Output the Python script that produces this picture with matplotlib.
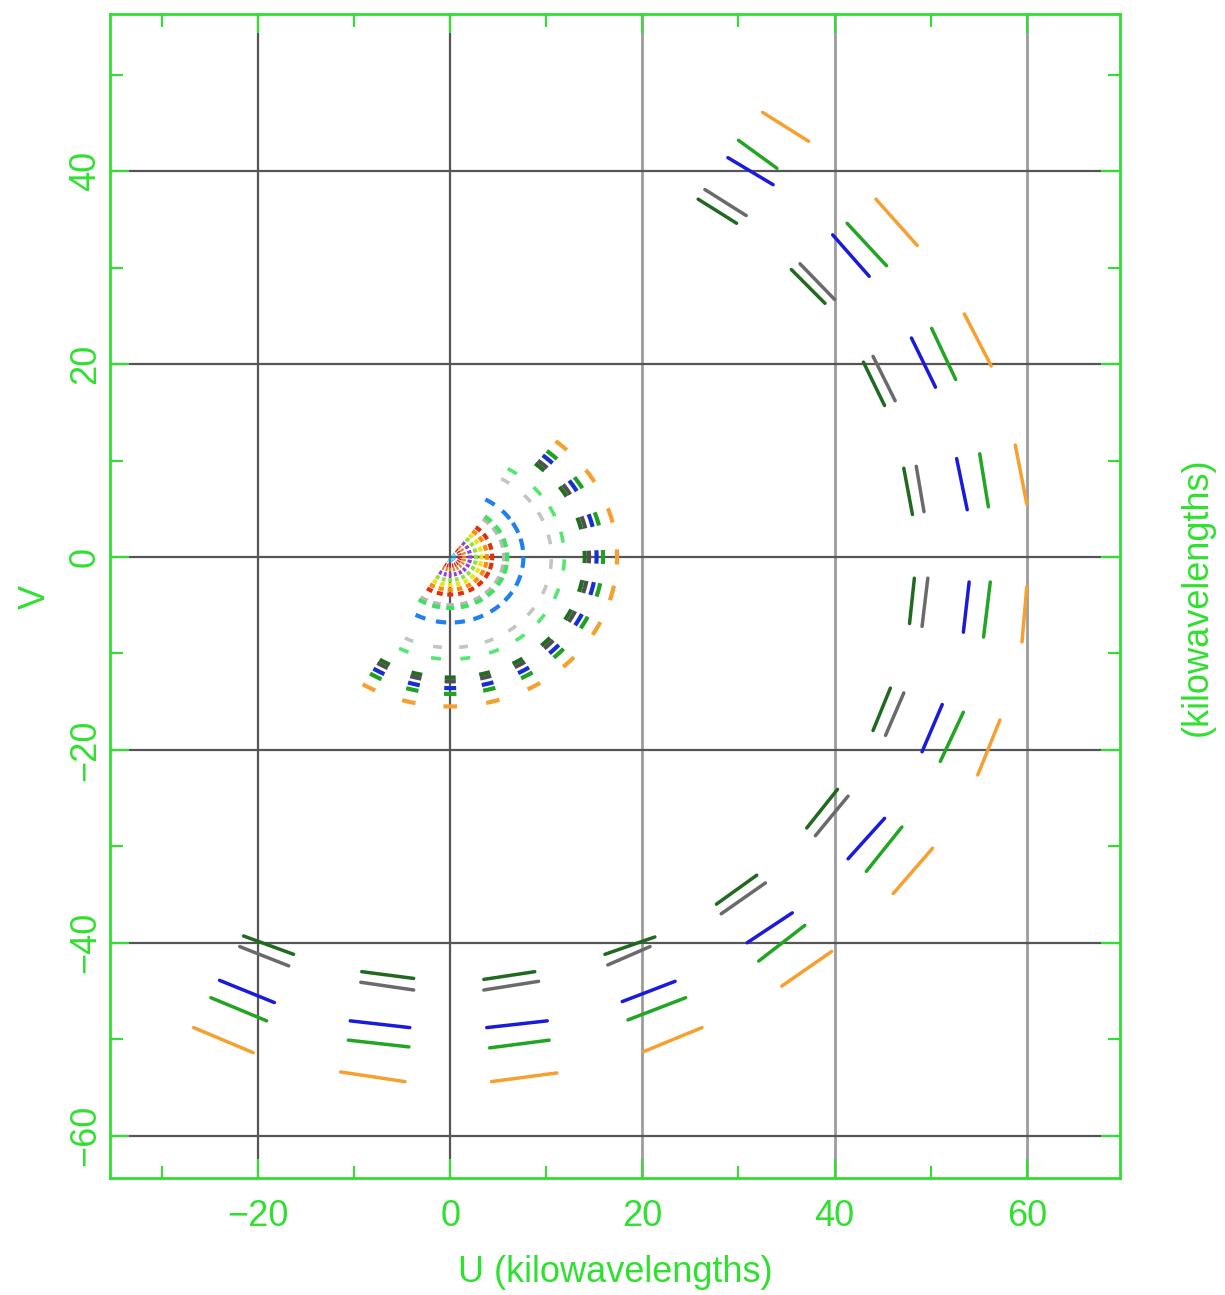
import numpy as np
import matplotlib
matplotlib.use("Agg")
import matplotlib.pyplot as plt
from matplotlib.ticker import MultipleLocator

# ---------------- data ----------------
# Outer UV-track segments: (u_start, v_start, u_end, v_end) in kilowavelengths,
# 12 hour-angle samples, from the top of the arc to the lower left.
orange_segs = [(32.5, 46.1, 37.3, 43.1), (44.3, 37.1, 48.6, 32.3), (53.5, 25.2, 56.3, 19.8),
               (58.8, 11.6, 60.0, 5.5), (60.0, -3.1, 59.5, -8.8), (57.2, -16.9, 54.9, -22.6),
               (50.2, -30.2, 46.1, -34.9), (39.7, -40.9, 34.5, -44.5), (26.2, -48.8, 20.1, -51.3),
               (11.1, -53.5, 4.3, -54.4), (-4.7, -54.4, -11.4, -53.4), (-20.5, -51.4, -26.7, -48.8)]
green_segs = [(30.0, 43.2, 34.0, 40.3), (41.3, 34.6, 45.4, 30.2), (50.1, 23.7, 52.6, 18.4),
              (55.1, 10.7, 56.0, 5.2), (56.2, -2.6, 55.5, -8.3), (53.4, -16.1, 51.0, -21.2),
              (47.0, -28.0, 43.3, -32.6), (36.9, -38.2, 32.1, -41.9), (24.5, -45.7, 18.5, -48.0),
              (10.3, -50.1, 4.1, -50.9), (-4.3, -50.8, -10.6, -50.1), (-19.1, -48.1, -24.9, -45.7)]
blue_segs = [(28.9, 41.4, 33.6, 38.6), (39.8, 33.4, 43.6, 29.1), (48.0, 22.7, 50.5, 17.6),
             (52.7, 10.2, 53.8, 4.9), (54.0, -2.6, 53.4, -7.8), (51.2, -15.3, 49.1, -20.2),
             (45.2, -27.1, 41.4, -31.3), (35.6, -36.9, 30.9, -40.0), (23.4, -44.0, 17.9, -46.1),
             (10.1, -48.1, 3.8, -48.8), (-4.2, -48.8, -10.4, -48.1), (-18.3, -46.2, -24.0, -43.9)]
gray_segs = [(26.5, 38.1, 30.8, 35.4), (36.4, 30.4, 40.0, 26.7), (44.0, 20.8, 46.3, 16.2),
             (48.5, 9.4, 49.3, 4.7), (49.7, -2.2, 49.1, -7.2), (47.2, -14.1, 45.3, -18.5),
             (41.4, -24.8, 38.0, -28.9), (32.8, -33.8, 28.2, -37.0), (20.8, -40.4, 16.4, -42.3),
             (9.2, -44.0, 3.5, -44.9), (-3.8, -44.9, -9.3, -44.1), (-16.8, -42.4, -21.9, -40.4)]
dkgreen_segs = [(25.8, 37.1, 29.8, 34.6), (35.5, 29.8, 39.0, 26.3), (43.0, 20.2, 45.2, 15.7),
                (47.2, 9.2, 48.1, 4.4), (48.3, -2.2, 47.8, -6.9), (45.8, -13.6, 44.0, -18.0),
                (40.3, -24.1, 37.1, -28.1), (31.9, -33.0, 27.7, -36.0), (21.3, -39.4, 16.1, -41.2),
                (8.8, -43.0, 3.5, -43.8), (-3.8, -43.7, -9.2, -43.0), (-16.3, -41.2, -21.5, -39.3)]

# Inner fan: ring radius (V semi-axis, kilowavelengths), colour, spoke set
ring_radius = [0.35, 0.9, 1.3, 1.85, 2.4, 2.9, 3.4, 3.9, 5.0, 5.3, 6.8, 9.4, 10.6,
               12.5, 12.9, 13.6, 14.2, 15.5]
ring_color = ['#20b0f0', '#e02020', '#f08020', '#9040e0', '#90e040', '#f0e020', '#ff8c00',
              '#e03010', '#b8b8b8', '#40e060', '#2080f0', '#c4c4c4', '#50e870',
              '#1f6f1f', '#505050', '#1530d0', '#22a022', '#f5a030']
ring_group = ['A', 'A', 'A', 'A', 'A', 'A', 'A', 'A', 'A', 'A', 'B', 'B', 'B',
              'A', 'A', 'A', 'A', 'A']
# polar angles (deg) of the spokes in the inner fan
spokes_A = [45, 30, 14.5, 0, -12.5, -26, -41.5, -57, -73.5, -90, -106, -122]
spokes_B = [54, 37, 24, 10, -4, -19, -34, -49, -65, -81.5, -98, -116.5]

x_grid = [-20, 0, 20, 40, 60]
y_grid = [-60, -40, -20, 0, 20, 40]

# ---------------- styling ----------------
GREEN = '#30e030'
FONT = ['Liberation Sans', 'DejaVu Sans']
plt.rcParams['font.family'] = FONT

fig = plt.figure(figsize=(12.25, 12.95), dpi=100)
ax = fig.add_axes([0.0898, 0.0903, 0.8245, 0.8989])
ax.set_xlim(-35.4, 69.7)
ax.set_ylim(-64.4, 56.3)

ax.set_xticks(x_grid)
ax.set_yticks(y_grid)
ax.xaxis.set_minor_locator(MultipleLocator(10))
ax.yaxis.set_minor_locator(MultipleLocator(10))
ax.grid(True, which='major', color='#555555', lw=1.6, zorder=0)
for val, gl in zip(x_grid, ax.xaxis.get_gridlines()):
    if val >= 20:
        gl.set_color('#9c9c9c')
        gl.set_linewidth(2.0)
ax.set_axisbelow(True)

ax.tick_params(which='both', direction='in', colors=GREEN, top=True, right=True,
               width=1.5, labelsize=26, labelcolor=GREEN)
ax.tick_params(which='major', length=14)
ax.tick_params(which='minor', length=9)
ax.tick_params(axis='x', which='major', pad=15)
ax.tick_params(axis='y', which='major', pad=5)
for lab in ax.get_yticklabels():
    lab.set_rotation(90)
    lab.set_va('center')
for sp in ax.spines.values():
    sp.set_color(GREEN)
    sp.set_linewidth(2.0)

# ---------------- outer segments ----------------
seg_sets = [(dkgreen_segs, '#1f6a1f'), (gray_segs, '#6a6a6a'), (blue_segs, '#1a1adc'),
            (green_segs, '#22a522'), (orange_segs, '#f5a030')]
for segs, col in seg_sets:
    for u0, v0, u1, v1 in segs:
        ax.plot([u0, u1], [v0, v1], color=col, lw=2.5, solid_capstyle='round', zorder=3)

# ---------------- inner fan ----------------
spoke_sets = {'A': spokes_A, 'B': spokes_B}
for r, col, grp in zip(ring_radius, ring_color, ring_group):
    a, b = 1.12 * r, r
    if r > 12:
        half, lw = 2.6, 3.0
    elif r > 8:
        half, lw = 2.8, 2.6
    else:
        half, lw = 4.5, 3.0
    for th in spoke_sets[grp]:
        t = np.radians(np.linspace(th - half, th + half, 7))
        rr = a * b / np.sqrt((b * np.cos(t)) ** 2 + (a * np.sin(t)) ** 2)
        ax.plot(rr * np.cos(t), rr * np.sin(t), color=col, lw=lw,
                solid_capstyle='butt', zorder=4)

# ---------------- labels ----------------
fig.text(615 / 1225, 1 - 1272 / 1295, 'U (kilowavelengths)', color=GREEN, fontsize=26,
         ha='center', va='center')
fig.text(35 / 1225, 1 - 597 / 1295, 'V', color=GREEN, fontsize=26, rotation=90,
         ha='center', va='center')
fig.text(1197 / 1225, 1 - 597 / 1295, '(kilowavelengths)', color=GREEN, fontsize=26,
         rotation=90, ha='center', va='center')

fig.savefig('out.png', dpi=100)
